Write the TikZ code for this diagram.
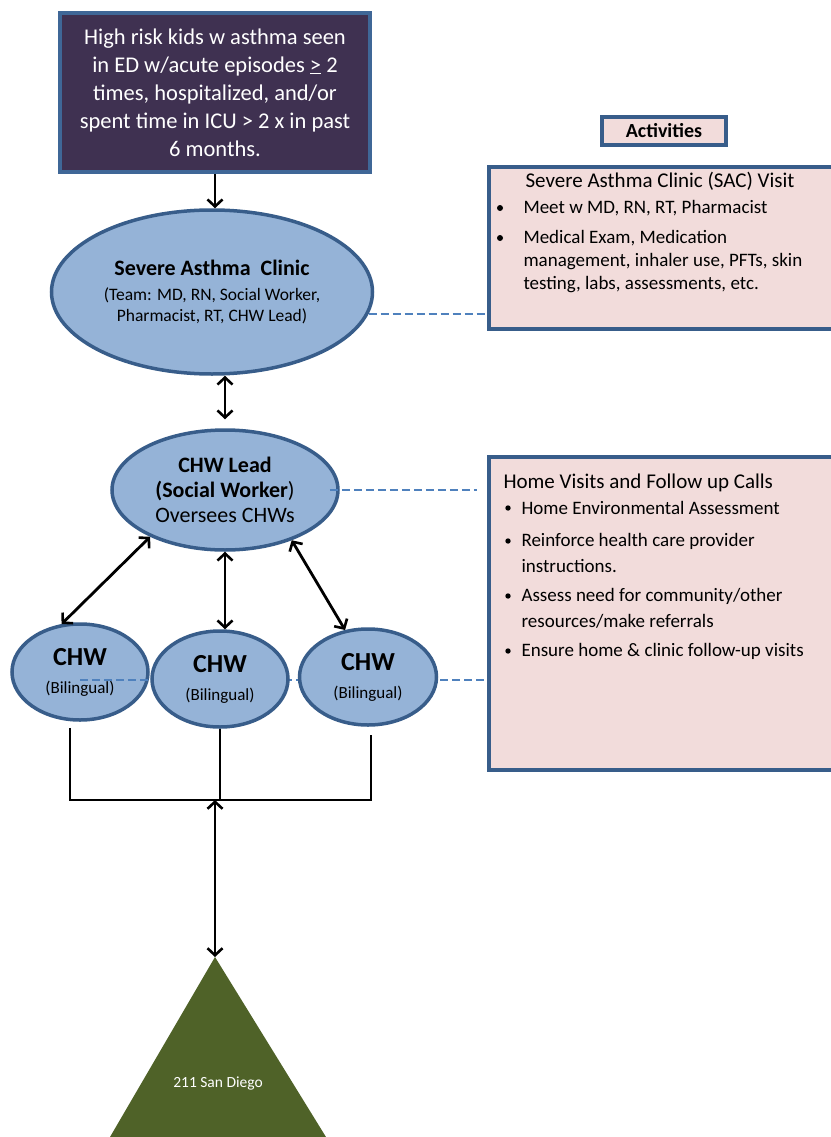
\documentclass[tikz,border=0pt]{standalone}
\usepackage{fontspec}
\setmainfont{Carlito}
\usetikzlibrary{shapes.geometric,arrows.meta}
\definecolor{plum}{HTML}{3F3151}
\definecolor{sky}{HTML}{95B3D7}
\definecolor{navy}{HTML}{385D8A}
\definecolor{rose}{HTML}{F2DCDB}
\definecolor{olive}{HTML}{4F6228}
\definecolor{dashblue}{HTML}{4F81BD}
\begin{document}
\begin{tikzpicture}[x=1pt,y=-1pt,
    bubble/.style={ellipse,draw=navy,fill=sky,line width=3.5pt,inner sep=0pt,align=center},
    panel/.style={rectangle,draw=navy,fill=rose,line width=3.5pt,inner sep=0pt,anchor=north west},
    barb/.tip={Straight Barb[length=7pt,width=15pt,line width=2.6pt]},
    link/.style={line width=2.8pt,barb-barb},
    wire/.style={line width=2.8pt},
    dashline/.style={draw=dashblue,line width=2.6pt,dash pattern=on 8pt off 4pt},
    chw/.style={bubble,minimum width=136,minimum height=96,font=\fontsize{17}{28}\selectfont},
    sactext/.style={anchor=west,font=\fontsize{19}{22}\selectfont},
    hometext/.style={anchor=west,font=\fontsize{19}{22}\selectfont}]
    \useasboundingbox (0,0) rectangle (830,1137);

    % referral criteria
    \node[draw=dashblue!80!black,fill=plum,line width=3.5pt,minimum width=310,minimum height=159,
        text=white,align=center,font=\fontsize{22.5}{28}\selectfont](risk)at(215,92.5)
        {High risk kids w asthma seen\\in ED w/acute episodes \underline{>} 2\\times, hospitalized, and/or\\spent time in ICU > 2 x in past\\6 months.};

    \node[bubble,minimum width=321,minimum height=164,font=\fontsize{17.5}{21}\selectfont](sac)at(212,292)
        {{\bfseries\fontsize{22}{27}\selectfont Severe Asthma\ \ Clinic}\\[4pt]
        (Team: MD, RN, Social Worker,\\Pharmacist, RT, CHW Lead)};
    \node[bubble,minimum width=226,minimum height=120,font=\fontsize{22}{25}\selectfont](lead)at(225,490)
        {\textbf{CHW Lead}\\\textbf{(Social Worker})\\Oversees CHWs};

    % activities
    \node[draw=navy,fill=rose,line width=3.5pt,minimum width=124,minimum height=28,
        font=\bfseries\fontsize{20}{22}\selectfont](act)at(664,131){Activities};
    \node[panel,minimum width=360,minimum height=162](sacbox)at(487,165){};
    \node[sactext,font=\fontsize{21}{24}\selectfont](sac0)at(522,181){Severe Asthma Clinic (SAC) Visit};
    \foreach \y/\t in {208/{Meet w MD, RN, RT, Pharmacist},238/{Medical Exam, Medication},
        262/{management, inhaler use, PFTs, skin},285/{testing, labs, assessments, etc.}}
        \node[sactext](sac\y)at(520,\y){\t};
    \foreach \y in {208,238} \fill(500,\y)circle(3);

    \node[panel,minimum width=360,minimum height=313](homebox)at(487,455){};
    \node[anchor=west,font=\fontsize{21}{24}\selectfont](home0)at(500,483){Home Visits and Follow up Calls};
    \foreach \y/\t in {508/{Home Environmental Assessment},541/{Reinforce health care provider},
        566/{instructions.},596/{Assess need for community/other},621/{resources/make referrals},
        651/{Ensure home \& clinic follow-up visits}}
        \node[hometext](home\y)at(518,\y){\t};
    \foreach \y in {508,541,596,651} \fill(508,\y)circle(2.7);

    % community health workers
    \node[chw](chw1)at(80,672){{\bfseries\fontsize{26}{28}\selectfont CHW}\\(Bilingual)};
    \draw[dashline]([yshift=-8pt]chw1.center)--([yshift=-8pt]chw1.center-|homebox.west);
    \node[chw](chw2)at(220,679){{\bfseries\fontsize{26}{28}\selectfont CHW}\\(Bilingual)};
    \node[chw,minimum width=137](chw3)at(368,677){{\bfseries\fontsize{26}{28}\selectfont CHW}\\(Bilingual)};

    \draw[dashline](sac.352)--(sac.352-|sacbox.west);
    \draw[dashline]([xshift=-10pt]lead.east)--([xshift=-10pt]lead.east-|homebox.west);

    \draw[wire,-barb](risk.south)--(risk.south|-sac.north);
    \draw[link,shorten >=9pt](lead.north|-sac.south)--(lead.north);
    \draw[link](lead.212)--(chw1.111);
    \draw[link](lead.south)--(lead.south|-chw2.north);
    \draw[link](lead.323)--(chw3.116);

    % 211 referral
    \coordinate(bus)at(215,800);
    \coordinate(apex)at(215,957);
    \draw[wire]([xshift=-10pt,yshift=-6pt]chw1.south)|-(bus)-|([xshift=3pt,yshift=-8pt]chw3.south);
    \draw[wire](chw2.south)--(chw2.south|-bus);
    \fill[olive](apex)--(326,1137)--(110,1137)--cycle;
    \node[text=white,font=\fontsize{15.5}{18}\selectfont](sd)at(218,1083){211 San Diego};
    \draw[link](bus)--(apex);
\end{tikzpicture}
\end{document}
